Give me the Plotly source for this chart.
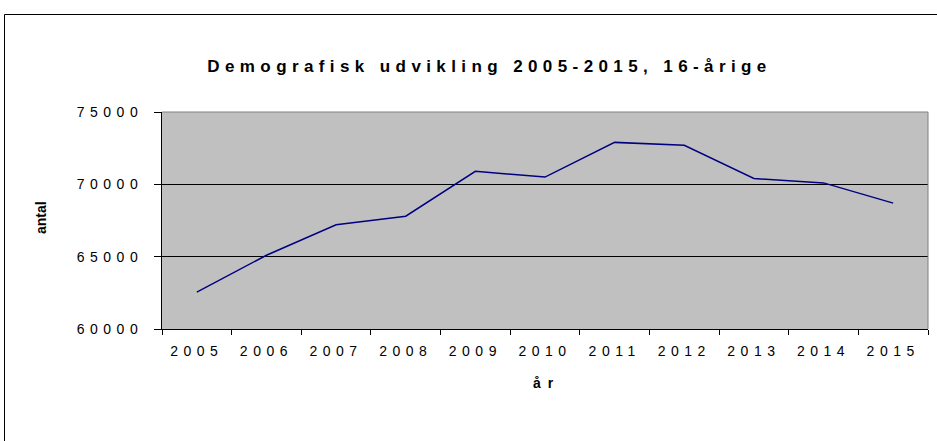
import plotly.graph_objects as go

years = ["2005", "2006", "2007", "2008", "2009", "2010", "2011", "2012", "2013", "2014", "2015"]
antal = [62550, 65100, 67200, 67800, 70900, 70500, 72900, 72700, 70400, 70100, 68700]
y_ticks = [60000, 65000, 70000, 75000]

FONT = "Liberation Sans, Arial, sans-serif"
L, R, T, B = 162, 9, 112, 112
W, H = 937, 441
pw, ph = W - L - R, H - T - B

def px_x(px):
    return (px - L) / pw

def px_y(py):
    return (H - B - py) / ph

fig = go.Figure()
fig.add_trace(go.Scatter(
    x=years, y=antal, mode="lines",
    line=dict(color="#000080", width=1.5),
    showlegend=False, hoverinfo="x+y",
))

fig.update_layout(
    width=W, height=H,
    margin=dict(l=L, r=R, t=T, b=B, autoexpand=False),
    paper_bgcolor="white",
    plot_bgcolor="#C0C0C0",
    font=dict(family=FONT, size=14, color="black"),
    xaxis=dict(
        type="category", range=[-0.5, 10.5],
        tickson="boundaries", ticks="outside", ticklen=5, tickcolor="black",
        showline=True, linecolor="black", linewidth=1,
        showgrid=False, mirror=False, zeroline=False,
        ticklabelstandoff=9,
        tickfont=dict(family=FONT, size=14),
    ),
    yaxis=dict(
        range=[60000, 75000], tickvals=y_ticks,
        ticktext=[str(v) for v in y_ticks],
        ticks="outside", ticklen=7, tickcolor="black",
        showline=True, linecolor="black", linewidth=1,
        showgrid=True, gridcolor="black", gridwidth=1,
        zeroline=False, ticklabelstandoff=8,
        tickfont=dict(family=FONT, size=14),
    ),
    shapes=[
        dict(type="line", xref="paper", yref="paper", x0=0, x1=1, y0=1, y1=1,
             line=dict(color="#808080", width=1)),
        dict(type="line", xref="paper", yref="paper", x0=1, x1=1, y0=0, y1=1,
             line=dict(color="#808080", width=1)),
        dict(type="rect", xref="paper", yref="paper",
             x0=px_x(4.5), x1=px_x(945), y0=px_y(450), y1=px_y(14.5),
             line=dict(color="black", width=1), fillcolor="rgba(0,0,0,0)", layer="below"),
    ],
    annotations=[
        dict(text="<b>Demografisk udvikling 2005-2015, 16-årige</b>",
             xref="paper", yref="paper", x=px_x(489), y=px_y(66),
             showarrow=False, xanchor="center", yanchor="middle",
             font=dict(family=FONT, size=17), name="title"),
        dict(text="<b>antal</b>", xref="paper", yref="paper",
             x=px_x(41), y=px_y(217), textangle=-90,
             showarrow=False, xanchor="center", yanchor="middle",
             font=dict(family=FONT, size=14), name="ytitle"),
        dict(text="<b>år</b>", xref="paper", yref="paper",
             x=px_x(547), y=px_y(383),
             showarrow=False, xanchor="center", yanchor="middle",
             font=dict(family=FONT, size=14), name="xtitle"),
    ],
)

post = """
document.body.style.margin = '0';
var gd = document.getElementById('{plot_id}');
gd.querySelectorAll('.xtick text, .ytick text').forEach(function(t){ t.style.letterSpacing = '5.5px'; });
gd.querySelectorAll('.annotation-text').forEach(function(t){
  var s = t.textContent;
  if (s.indexOf('Demografisk') === 0) { t.style.letterSpacing = '5.4px'; }
  else if (s === 'år') { t.style.letterSpacing = '7px'; }
});
"""

fig.write_html("out.html", post_script=post, config={"displayModeBar": False})
